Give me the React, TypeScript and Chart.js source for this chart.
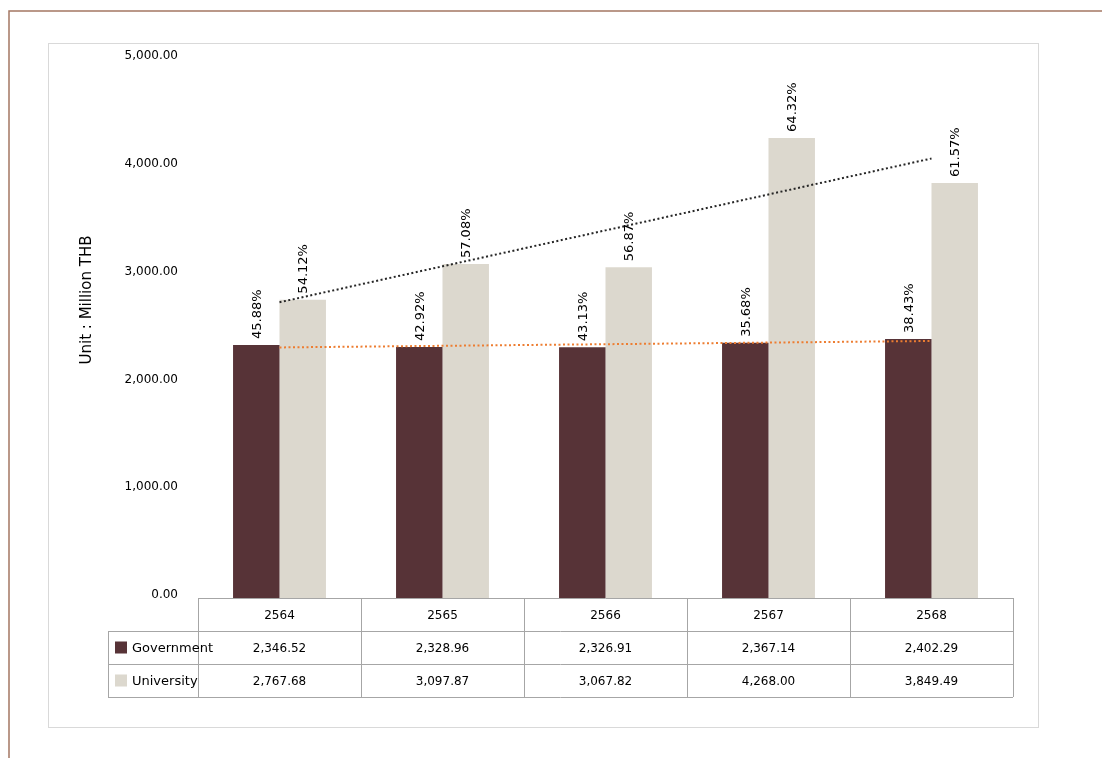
import React, { useEffect, useRef } from "react";
import { Chart, registerables } from "chart.js";

Chart.register(...registerables);

const years = ["2564", "2565", "2566", "2567", "2568"];
const government = [2346.52, 2328.96, 2326.91, 2367.14, 2402.29];
const university = [2767.68, 3097.87, 3067.82, 4268.0, 3849.49];
const governmentPct = ["45.88%", "42.92%", "43.13%", "35.68%", "38.43%"];
const universityPct = ["54.12%", "57.08%", "56.87%", "64.32%", "61.57%"];
const yTicks = [0, 1000, 2000, 3000, 4000, 5000];

const GOV_COLOR = "#573337";
const UNI_COLOR = "#DCD8CE";
const FONT = "'DejaVu Sans', sans-serif";

// Linear (least squares) trendline, as the spreadsheet trendline does
function linearTrend(values: number[]): number[] {
  const n = values.length;
  const mx = (n - 1) / 2;
  const my = values.reduce((a, b) => a + b, 0) / n;
  let num = 0;
  let den = 0;
  values.forEach((v, i) => {
    num += (i - mx) * (v - my);
    den += (i - mx) * (i - mx);
  });
  const slope = num / den;
  return values.map((_, i) => my + slope * (i - mx));
}

const fmt = (v: number) =>
  v.toLocaleString("en-US", { minimumFractionDigits: 2, maximumFractionDigits: 2 });

const framePlugin = {
  id: "frame",
  beforeDraw(chart: any) {
    const ctx = chart.ctx;
    ctx.save();
    ctx.fillStyle = "#ffffff";
    ctx.fillRect(0, 0, chart.width, chart.height);
    // outer brown frame
    ctx.strokeStyle = "#A47763";
    ctx.lineWidth = 1.5;
    ctx.beginPath();
    ctx.moveTo(9, chart.height);
    ctx.lineTo(9, 11);
    ctx.lineTo(chart.width, 11);
    ctx.stroke();
    // inner chart box
    ctx.lineWidth = 1;
    ctx.strokeStyle = "#D9D9D9";
    ctx.strokeRect(48.5, 43.5, 990, 684);
    // y-axis title
    ctx.fillStyle = "#000";
    ctx.font = `15px ${FONT}`;
    ctx.translate(87, 300);
    ctx.rotate(-Math.PI / 2);
    ctx.textAlign = "center";
    ctx.textBaseline = "middle";
    ctx.fillText("Unit : Million THB", 0, 0);
    ctx.restore();
  },
};

const labelPlugin = {
  id: "pctLabels",
  afterDatasetsDraw(chart: any) {
    const ctx = chart.ctx;
    ctx.save();
    ctx.fillStyle = "#000";
    ctx.font = `13px ${FONT}`;
    ctx.textAlign = "left";
    ctx.textBaseline = "middle";
    const sets = [
      { idx: 2, labels: governmentPct },
      { idx: 3, labels: universityPct },
    ];
    sets.forEach(({ idx, labels }) => {
      const meta = chart.getDatasetMeta(idx);
      meta.data.forEach((el: any, j: number) => {
        ctx.save();
        ctx.translate(el.x + 1, el.y - 6);
        ctx.rotate(-Math.PI / 2);
        ctx.fillText(labels[j], 0, 0);
        ctx.restore();
      });
    });
    ctx.restore();
  },
};

const tablePlugin = {
  id: "dataTable",
  afterDraw(chart: any) {
    const ctx = chart.ctx;
    const area = chart.chartArea;
    const n = years.length;
    const colW = (area.right - area.left) / n;
    const rowH = 33;
    const top = area.bottom;
    const legendLeft = 108;
    ctx.save();
    ctx.strokeStyle = "#A6A6A6";
    ctx.lineWidth = 1;
    const px = (v: number) => Math.round(v) + 0.5;
    ctx.beginPath();
    ctx.moveTo(area.left, px(top));
    ctx.lineTo(area.right, px(top));
    for (let r = 1; r <= 3; r++) {
      ctx.moveTo(legendLeft, px(top + r * rowH));
      ctx.lineTo(area.right, px(top + r * rowH));
    }
    for (let c = 0; c <= n; c++) {
      const x = px(area.left + c * colW);
      ctx.moveTo(x, top);
      ctx.lineTo(x, top + 3 * rowH);
    }
    ctx.moveTo(px(legendLeft), top + rowH);
    ctx.lineTo(px(legendLeft), top + 3 * rowH);
    ctx.stroke();

    ctx.fillStyle = "#000";
    ctx.font = `12px ${FONT}`;
    ctx.textAlign = "center";
    ctx.textBaseline = "middle";
    years.forEach((y, i) => {
      const cx = area.left + (i + 0.5) * colW;
      ctx.fillText(y, cx, top + rowH / 2 + 1);
      ctx.fillText(fmt(government[i]), cx, top + rowH * 1.5 + 1);
      ctx.fillText(fmt(university[i]), cx, top + rowH * 2.5 + 1);
    });

    const rows = [
      { name: "Government", color: GOV_COLOR },
      { name: "University", color: UNI_COLOR },
    ];
    rows.forEach((r, k) => {
      const cy = top + rowH * (1.5 + k);
      ctx.fillStyle = r.color;
      ctx.fillRect(115, cy - 6, 12, 12);
      ctx.fillStyle = "#000";
      ctx.font = `13px ${FONT}`;
      ctx.textAlign = "left";
      ctx.fillText(r.name, 132, cy + 1);
    });
    ctx.restore();
  },
};

export default function App() {
  const ref = useRef<HTMLCanvasElement | null>(null);

  useEffect(() => {
    if (!ref.current) return;
    const chart = new Chart(ref.current, {
      type: "bar",
      data: {
        labels: years,
        datasets: [
          {
            type: "line",
            label: "Trend University",
            data: linearTrend(university),
            borderColor: "#262626",
            borderWidth: 2,
            borderDash: [2, 2.5],
            pointRadius: 0,
            fill: false,
            order: 0,
          } as any,
          {
            type: "line",
            label: "Trend Government",
            data: linearTrend(government),
            borderColor: "#ED7D31",
            borderWidth: 2,
            borderDash: [2, 2.5],
            pointRadius: 0,
            fill: false,
            order: 0,
          } as any,
          {
            label: "Government",
            data: government,
            backgroundColor: GOV_COLOR,
            categoryPercentage: 0.57,
            barPercentage: 1.0,
            order: 1,
          },
          {
            label: "University",
            data: university,
            backgroundColor: UNI_COLOR,
            categoryPercentage: 0.57,
            barPercentage: 1.0,
            order: 1,
          },
        ],
      },
      options: {
        responsive: false,
        animation: false,
        layout: { padding: { left: 0, right: 89, top: 59, bottom: 160 } },
        plugins: {
          legend: { display: false },
          tooltip: { enabled: false },
          title: { display: false },
        },
        scales: {
          x: { display: false },
          y: {
            min: 0,
            max: 5000,
            afterFit: (s: any) => {
              s.width = 198;
            },
            afterBuildTicks: (s: any) => {
              s.ticks = yTicks.map((v) => ({ value: v }));
            },
            grid: { display: false, drawTicks: false },
            border: { display: false },
            ticks: {
              padding: 20,
              labelOffset: -3,
              color: "#000",
              font: { family: FONT, size: 12 },
              callback: (v: any) => fmt(Number(v)),
            },
          },
        },
      },
      plugins: [framePlugin, labelPlugin, tablePlugin],
    });
    return () => chart.destroy();
  }, []);

  return (
    <div style={{ position: "absolute", left: 0, top: 0, width: 1102, height: 758 }}>
      <canvas ref={ref} width={1102} height={758} style={{ display: "block" }} />
    </div>
  );
}
